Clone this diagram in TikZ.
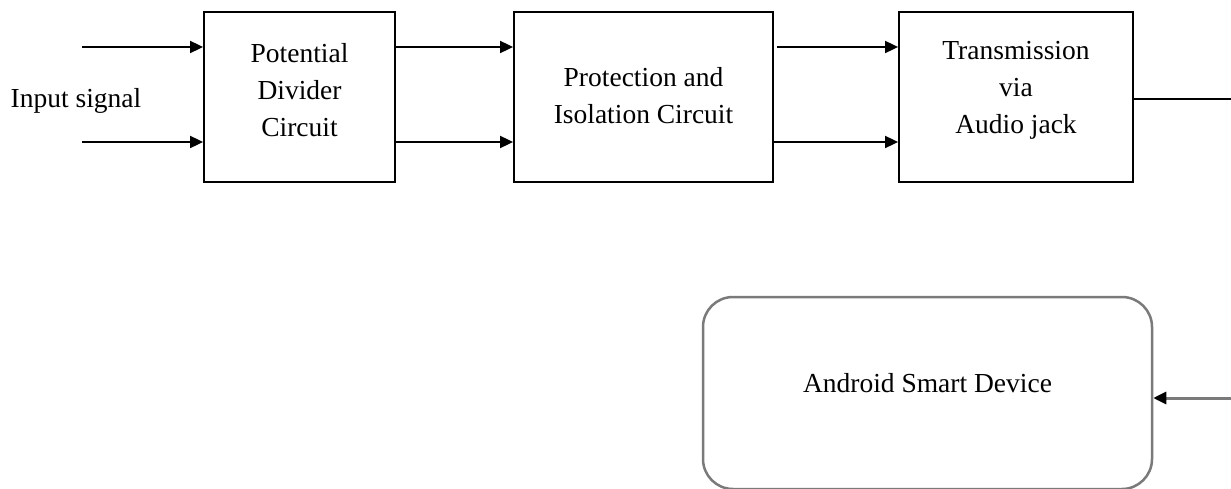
\documentclass[tikz,border=0pt]{standalone}
\usepackage{fontspec}
\setmainfont{Liberation Serif}
\usetikzlibrary{arrows.meta}
\definecolor{linegray}{HTML}{7A7A7A}
\tikzset{
  blockbox/.style={draw=black, line width=1.8pt, minimum width=#1, minimum height=170pt, inner sep=0pt},
  txt/.style={align=center, inner sep=0pt, font=\fontsize{27.5pt}{37pt}\selectfont},
  sigarrow/.style={draw=black, line width=1.8pt, -{Triangle[length=13pt,width=12pt]}},
  sigline/.style={draw=black, line width=1.8pt},
  devbox/.style={draw=linegray, line width=2.5pt, rounded corners=30pt, minimum width=449pt, minimum height=192pt, inner sep=0pt},
  devarrow/.style={draw=linegray, line width=3pt, -{Triangle[length=13pt,width=12pt,color=black]}}
}
\begin{document}
\begin{tikzpicture}[x=1pt,y=-1pt]
\useasboundingbox (0,0) rectangle (1231,489);
% blocks
\node[blockbox=191pt] (b1) at (299.5,97) {};
\node[blockbox=259pt] (b2) at (643.5,97) {};
\node[blockbox=234pt] (b3) at (1016,97) {};
\node[devbox] (dev) at (927.5,393) {};
% texts
\node[txt] (t1) at ([yshift=7pt]b1.center) {Potential\\Divider\\Circuit};
\node[txt] (t2) at ([yshift=1pt]b2.center) {Protection and\\Isolation Circuit};
\node[txt] (t3) at ([yshift=7pt]b3.center) {Transmission\\via\\Audio jack};
\node[txt] (t4) at ([yshift=10pt]dev.center) {Android Smart Device};
\node[txt, anchor=base] (inp) at (76,108) {Input signal};
% free ends
\coordinate (in1) at (82,47);
\coordinate (in2) at (82,142);
\coordinate (outR) at (1231,99);
\coordinate (devR) at (1231,398);
% connectors
\draw[sigarrow] (in1) -- (in1 -| b1.west);
\draw[sigarrow] (in2) -- (in2 -| b1.west);
\draw[sigarrow] (in1 -| b1.east) -- (in1 -| b2.west);
\draw[sigarrow] (in2 -| b1.east) -- (in2 -| b2.west);
\draw[sigarrow] ([xshift=3pt]in1 -| b2.east) -- (in1 -| b3.west);
\draw[sigarrow] (in2 -| b2.east) -- (in2 -| b3.west);
\draw[sigline] (outR -| b3.east) -- (outR);
\draw[devarrow] (devR) -- (devR -| dev.east);
\end{tikzpicture}
\end{document}
